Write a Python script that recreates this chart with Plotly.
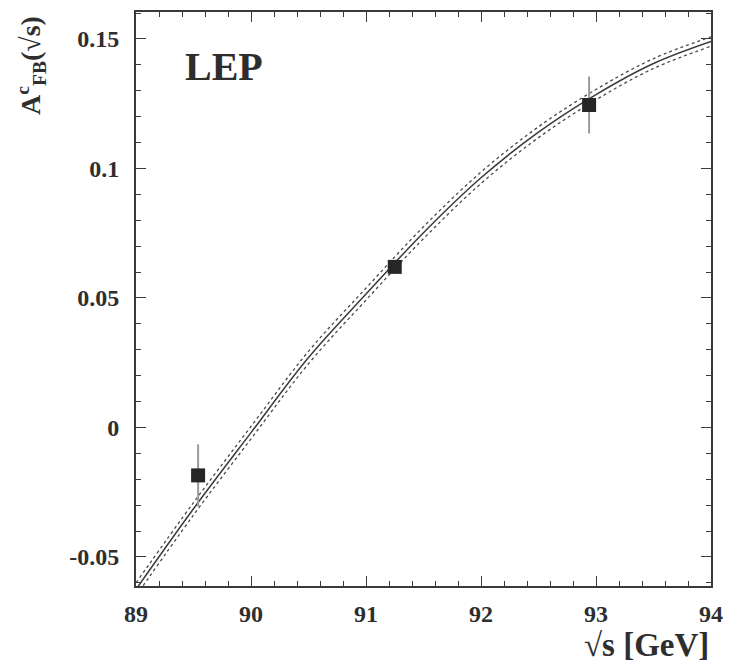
import plotly.graph_objects as go

# Measured charm forward-backward asymmetry
energy = [89.54, 91.25, 92.94]
asym = [-0.0185, 0.0620, 0.1245]
asym_err = [0.0120, 0.0025, 0.0110]

# Standard Model prediction and its uncertainty band
curve_energy = [89.0, 89.5, 90.0, 90.5, 91.0, 91.5, 92.0, 92.5, 93.0, 93.5, 94.0]
curve_asym = [-0.0625, -0.0314, -0.0020, 0.0270, 0.0515, 0.0752, 0.0964, 0.1140, 0.1285, 0.1405, 0.1490]
curve_upper = [-0.0600, -0.0290, 0.0004, 0.0294, 0.0538, 0.0775, 0.0986, 0.1161, 0.1305, 0.1424, 0.1508]
curve_lower = [-0.0650, -0.0338, -0.0044, 0.0246, 0.0492, 0.0729, 0.0942, 0.1119, 0.1265, 0.1386, 0.1472]

x_ticks = [89, 90, 91, 92, 93, 94]
x_labels = ["89", "90", "91", "92", "93", "94"]
y_ticks = [-0.05, 0, 0.05, 0.1, 0.15]
y_labels = ["-0.05", "0", "0.05", "0.1", "0.15"]

serif = "Liberation Serif"
ink = "#2e2e2e"

fig = go.Figure()

for band in (curve_upper, curve_lower):
    fig.add_trace(go.Scatter(
        x=curve_energy, y=band, mode="lines", line_shape="spline",
        line=dict(color="#4a4a4a", width=1.3, dash="dot"),
        showlegend=False, hoverinfo="skip",
    ))

fig.add_trace(go.Scatter(
    x=curve_energy, y=curve_asym, mode="lines", line_shape="spline",
    line=dict(color="#3a3a3a", width=1.5),
    showlegend=False,
))

fig.add_trace(go.Scatter(
    x=energy, y=asym, mode="markers",
    marker=dict(symbol="square", size=14, color="#262626"),
    error_y=dict(type="data", array=asym_err, color="#9a9a9a", thickness=2, width=0),
    showlegend=False,
))

axis_common = dict(
    showline=True, linecolor="#3a3a3a", linewidth=2, mirror="allticks",
    ticks="inside", ticklen=10, tickwidth=1.3, tickcolor="#3a3a3a",
    showgrid=False, zeroline=False,
    tickfont=dict(family=serif, size=24, color=ink, weight="bold"),
)

fig.update_xaxes(
    range=[89, 94], tickmode="array", tickvals=x_ticks, ticktext=x_labels,
    minor=dict(ticks="inside", ticklen=5, tick0=89, dtick=0.2, tickcolor="#3a3a3a", tickwidth=1.2),
    ticklabelstandoff=5,
    **axis_common,
)
fig.update_yaxes(
    range=[-0.0612, 0.1604], tickmode="array", tickvals=y_ticks, ticktext=y_labels,
    minor=dict(ticks="inside", ticklen=5, tick0=0, dtick=0.01, tickcolor="#3a3a3a", tickwidth=1.2),
    ticklabelstandoff=10,
    **axis_common,
)

fig.add_annotation(
    text="LEP", xref="paper", yref="paper", x=0.153, y=0.905,
    xanchor="center", yanchor="middle", showarrow=False,
    font=dict(family=serif, size=40, color=ink, weight="bold"),
)
fig.add_annotation(
    text="√s [GeV]", xref="paper", yref="paper", x=1.0, y=-0.1024,
    xanchor="right", yanchor="middle", showarrow=False,
    font=dict(family=serif, size=33, color=ink, weight="bold"),
)
fig.add_annotation(
    text="A<sup>c</sup><sub>FB</sub>(√s)", xref="paper", yref="paper",
    x=-0.183, y=0.997, xanchor="center", yanchor="top", textangle=-90,
    showarrow=False,
    font=dict(family=serif, size=28, color=ink, weight="bold"),
)

fig.update_layout(
    width=733, height=665,
    margin=dict(l=136, r=16, t=10, b=79),
    plot_bgcolor="white", paper_bgcolor="white",
)

fig.write_html("out.html")
